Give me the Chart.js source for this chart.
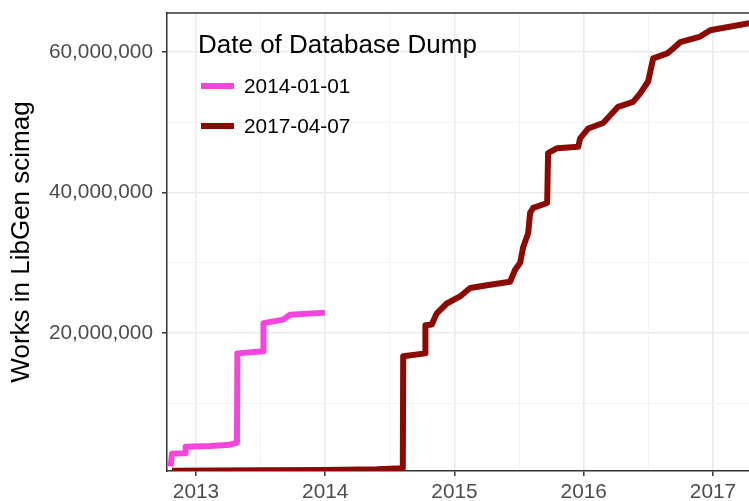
<!DOCTYPE html>
<html>
<head>
<meta charset="utf-8">
<script src="https://cdn.jsdelivr.net/npm/chart.js@4.4.1/dist/chart.umd.min.js"></script>
<style>
  html, body { margin: 0; padding: 0; background: #fff; }
  #wrap { width: 749px; height: 501px; }
</style>
</head>
<body>
<div id="wrap"><canvas id="chart"></canvas></div>
<script>
// series labels + colours
const seriesNames = ['2014-01-01', '2017-04-07'];
const seriesColors = ['#f545dd', '#8c0a04'];

// dump of 2014-01-01 (decimal year, works)
const dump2014Years = [2012.804, 2012.814, 2012.915, 2012.920, 2013.108, 2013.263, 2013.317, 2013.320, 2013.519, 2013.522, 2013.673, 2013.728, 2013.998];
const dump2014Works = [1000000, 2800000, 2900000, 3800000, 3900000, 4100000, 4400000, 17100000, 17400000, 21400000, 21900000, 22600000, 22900000];

// dump of 2017-04-07
const dump2017Years = [2012.814, 2013.5, 2014.0, 2014.4, 2014.600, 2014.603, 2014.772, 2014.775, 2014.824, 2014.863, 2014.940, 2015.043, 2015.121, 2015.250, 2015.430, 2015.469, 2015.508, 2015.531, 2015.570, 2015.585, 2015.608, 2015.717, 2015.724, 2015.794, 2015.957, 2015.972, 2016.034, 2016.150, 2016.266, 2016.382, 2016.437, 2016.498, 2016.537, 2016.646, 2016.692, 2016.746, 2016.901, 2016.978, 2017.280];
const dump2017Works = [380000, 450000, 500000, 600000, 750000, 16700000, 17100000, 21100000, 21200000, 22800000, 24200000, 25200000, 26400000, 26800000, 27300000, 29000000, 30000000, 32200000, 34200000, 37100000, 37800000, 38500000, 45600000, 46300000, 46500000, 47700000, 49100000, 49900000, 52200000, 52900000, 54100000, 55800000, 59100000, 59800000, 60500000, 61400000, 62200000, 63100000, 64100000];

// axis ticks
const xTicks = [2013, 2014, 2015, 2016, 2017];
const yTicks = [20000000, 40000000, 60000000];

const xMin = 2012.7756, xMax = 2017.2785;
const yMin = 356000, yMax = 65550000;

const toPoints = (xs, ys) => xs.map((x, i) => ({ x: x, y: ys[i] }));

// minor gridlines sit halfway between major ones
const xMinor = xTicks.map(t => t + 0.5).concat([xTicks[0] - 0.5]).filter(v => v > xMin && v < xMax);
const yMinor = [yTicks[0] / 2].concat(yTicks.map(t => t + yTicks[0] / 2)).filter(v => v > yMin && v < yMax);

const fmt = v => Math.round(v).toLocaleString('en-US');
const FONT = '"Liberation Sans", Arial, sans-serif';

const panelBorder = {
  id: 'panelBorder',
  afterDraw(chart) {
    const { ctx, chartArea: a } = chart;
    ctx.save();
    ctx.strokeStyle = '#333333';
    ctx.lineWidth = 1.5;
    ctx.beginPath();
    ctx.moveTo(a.left, a.top);
    ctx.lineTo(a.right + 5, a.top);
    ctx.stroke();
    ctx.restore();
  }
};

const insideLegend = {
  id: 'insideLegend',
  afterDraw(chart) {
    const ctx = chart.ctx;
    ctx.save();
    ctx.fillStyle = '#000';
    ctx.textBaseline = 'middle';
    ctx.textAlign = 'left';
    ctx.font = '26px ' + FONT;
    ctx.fillText('Date of Database Dump', 198, 46);
    ctx.font = '20.8px ' + FONT;
    chart.data.datasets.forEach((ds, i) => {
      const y = 86 + i * 40;
      ctx.strokeStyle = ds.borderColor;
      ctx.lineWidth = 6;
      ctx.beginPath();
      ctx.moveTo(201, y);
      ctx.lineTo(234, y);
      ctx.stroke();
      ctx.fillStyle = '#000';
      ctx.fillText(ds.label, 244, y + 1);
    });
    ctx.restore();
  }
};

const noPad = s => { s.paddingTop = 0; s.paddingBottom = 0; s.paddingLeft = 0; s.paddingRight = 0; };

const ctx = document.getElementById('chart');
new Chart(ctx, {
  type: 'line',
  data: {
    datasets: [
      {
        label: seriesNames[0],
        data: toPoints(dump2014Years, dump2014Works),
        borderColor: seriesColors[0],
        backgroundColor: seriesColors[0],
        borderWidth: 6,
        pointRadius: 0,
        tension: 0,
        order: 1
      },
      {
        label: seriesNames[1],
        data: toPoints(dump2017Years, dump2017Works),
        borderColor: seriesColors[1],
        backgroundColor: seriesColors[1],
        borderWidth: 6,
        pointRadius: 0,
        tension: 0,
        order: 0
      }
    ]
  },
  options: {
    responsive: true,
    maintainAspectRatio: false,
    animation: false,
    devicePixelRatio: 1,
    layout: { padding: { left: 0, top: 13, right: 0, bottom: 0 } },
    plugins: { legend: { display: false }, tooltip: { enabled: false } },
    elements: { line: { borderJoinStyle: 'round', borderCapStyle: 'butt' } },
    scales: {
      x: {
        type: 'linear',
        min: xMin,
        max: xMax,
        afterBuildTicks: s => { s.ticks = xTicks.concat(xMinor).map(v => ({ value: v })); },
        afterFit: s => { s.height = 30; noPad(s); },
        border: { color: '#333333', width: 1.5 },
        grid: {
          color: c => xTicks.includes(c.tick.value) ? '#ebebeb' : '#f3f3f3',
          lineWidth: c => xTicks.includes(c.tick.value) ? 1.6 : 0.9,
          tickColor: c => xTicks.includes(c.tick.value) ? '#333333' : 'rgba(0,0,0,0)',
          tickLength: 5,
          tickWidth: 1.5
        },
        ticks: {
          autoSkip: false,
          maxRotation: 0,
          padding: 4,
          color: '#4d4d4d',
          font: { family: FONT, size: 20.8 },
          callback: v => xTicks.includes(v) ? String(v) : ''
        }
      },
      y: {
        type: 'linear',
        min: yMin,
        max: yMax,
        afterBuildTicks: s => { s.ticks = yMinor.concat(yTicks).map(v => ({ value: v })); },
        afterFit: s => { s.width = 167; noPad(s); },
        border: { color: '#333333', width: 1.5 },
        grid: {
          color: c => yTicks.includes(c.tick.value) ? '#ebebeb' : '#f3f3f3',
          lineWidth: c => yTicks.includes(c.tick.value) ? 1.6 : 0.9,
          tickColor: c => yTicks.includes(c.tick.value) ? '#333333' : 'rgba(0,0,0,0)',
          tickLength: 5,
          tickWidth: 1.5
        },
        ticks: {
          autoSkip: false,
          padding: 9,
          color: '#4d4d4d',
          font: { family: FONT, size: 20.8 },
          callback: v => yTicks.includes(v) ? fmt(v) : ''
        },
        title: {
          display: true,
          text: 'Works in LibGen scimag',
          color: '#000',
          font: { family: FONT, size: 26 },
          padding: { top: 6, bottom: 0 }
        }
      }
    }
  },
  plugins: [panelBorder, insideLegend]
});
</script>
</body>
</html>
